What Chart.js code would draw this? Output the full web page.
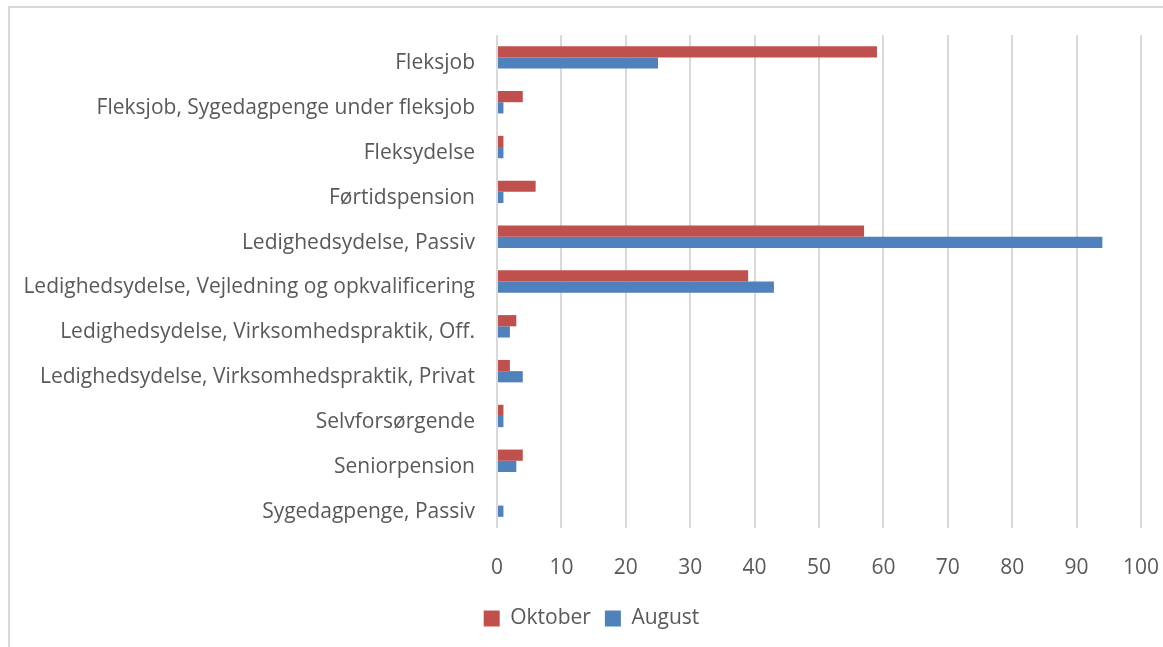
<!DOCTYPE html>
<html><head><meta charset="utf-8">
<script src="https://cdn.jsdelivr.net/npm/chart.js@4/dist/chart.umd.min.js"></script>
<style>
html,body{margin:0;padding:0;background:#fff;overflow:hidden;}
#frame{position:absolute;left:8px;top:6px;width:1200px;height:700px;border-left:2px solid #d9d9d9;border-top:2px solid #d9d9d9;}
#wrap{position:absolute;left:0;top:0;width:1163px;height:647px;}
</style></head>
<body>
<div id="frame"></div>
<div id="wrap"><canvas id="c" width="1163" height="647"></canvas></div>
<script>
const categories = [
  "Fleksjob",
  "Fleksjob, Sygedagpenge under fleksjob",
  "Fleksydelse",
  "Førtidspension",
  "Ledighedsydelse, Passiv",
  "Ledighedsydelse, Vejledning og opkvalificering",
  "Ledighedsydelse, Virksomhedspraktik, Off.",
  "Ledighedsydelse, Virksomhedspraktik, Privat",
  "Selvforsørgende",
  "Seniorpension",
  "Sygedagpenge, Passiv"
];
const oktober = [59, 4, 1, 6, 57, 39, 3, 2, 1, 4, 0];
const august  = [25, 1, 1, 1, 94, 43, 2, 4, 1, 3, 1];
const xTicks = [0,10,20,30,40,50,60,70,80,90,100];

const FONT = "'Open Sans', Lato, sans-serif";
const TXT = "#595959";

const shiftLegend = {
  id: 'shiftLegend',
  beforeDraw(chart) {
    const lg = chart.legend;
    if (lg) { lg.left = 20; lg.right = chart.width; }
  }
};

new Chart(document.getElementById('c'), {
  type: 'bar',
  data: {
    labels: categories,
    datasets: [
      {label: 'Oktober', data: oktober, backgroundColor: '#C0504D', categoryPercentage: 0.5, barPercentage: 1.0},
      {label: 'August', data: august, backgroundColor: '#4F81BD', categoryPercentage: 0.5, barPercentage: 1.0}
    ]
  },
  plugins: [shiftLegend],
  options: {
    indexAxis: 'y',
    responsive: false,
    animation: false,
    layout: {padding: {left: 0, right: 22, top: 35, bottom: 8}},
    plugins: {
      legend: {
        position: 'bottom',
        labels: {boxWidth: 16, boxHeight: 16, font: {family: FONT, size: 21}, color: TXT, padding: 14}
      },
      tooltip: {enabled: false}
    },
    scales: {
      x: {
        min: 0, max: 100,
        afterBuildTicks: s => { s.ticks = xTicks.map(v => ({value: v})); },
        grid: {color: '#d9d9d9', lineWidth: 2, drawTicks: false},
        border: {display: false},
        ticks: {font: {family: FONT, size: 21}, color: TXT, padding: 27, maxRotation: 0},
        afterFit: s => { s.height = 66; s.paddingLeft = 0; s.paddingRight = 0; }
      },
      y: {
        grid: {display: false, drawTicks: false},
        border: {display: false},
        ticks: {font: {family: FONT, size: 21}, color: TXT, padding: 22, autoSkip: false, labelOffset: 6},
        afterFit: s => { s.width = 497; s.paddingTop = 0; s.paddingBottom = 0; }
      }
    }
  }
});
</script>
</body></html>
